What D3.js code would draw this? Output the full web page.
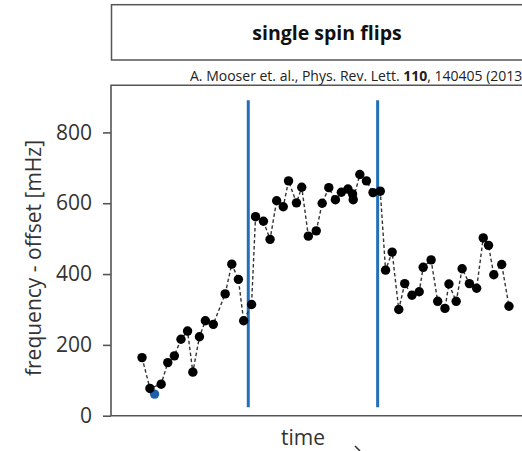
<!DOCTYPE html>
<html>
<head>
<meta charset="utf-8">
<script src="https://cdn.jsdelivr.net/npm/d3@7"></script>
<style>
  body { margin: 0; background: #fff; }
  text { font-family: "Open Sans", "Noto Sans", sans-serif; fill: #333; }
</style>
</head>
<body>
<div id="chart"></div>
<script>
// measurement time (arbitrary units) and frequency offset in mHz
var times = [4.7, 5.9, 7.6, 8.6, 9.6, 10.6, 11.6, 12.4, 13.4, 14.3, 15.5, 17.3, 18.3, 19.3, 20.1, 21.3,
  21.9, 23.1, 24.1, 25.1, 26.1, 26.9, 28.1, 28.9, 29.9, 31.1, 32.0, 33.0, 34.0, 34.9, 35.9, 36.6, 36.7,
  37.7, 38.7, 39.7, 40.8, 41.6, 42.6, 43.6, 44.5, 45.6, 46.7, 47.3, 48.5, 49.5, 50.6, 51.2, 52.3, 53.2,
  54.3, 55.4, 56.4, 57.2, 58.0, 59.2, 60.3];
var offsets = [164, 77, 89, 150, 169, 216, 239, 123, 223, 268, 258, 344, 428, 385, 268, 314,
  562, 549, 498, 607, 590, 663, 601, 645, 507, 522, 600, 644, 610, 631, 640, 626, 610,
  681, 663, 630, 634, 411, 462, 300, 373, 340, 350, 419, 440, 323, 303, 372, 323, 415,
  373, 360, 502, 481, 398, 427, 309];
// highlighted point
var markedTime = [6.6];
var markedOffset = [61];
// spin flip events
var flipTimes = [20.8, 40.4];
var yTicks = [0, 200, 400, 600, 800];

var W = 522, H = 451;
var pLeft = 111, pTop = 85.3, pBottom = 415.7, pRight = 560;

var svg = d3.select("#chart").append("svg")
  .attr("width", W).attr("height", H);

var x = d3.scaleLinear().domain([0, 65]).range([pLeft, pLeft + 65 * 6.6]);
var y = d3.scaleLinear().domain([0, 933]).range([pBottom, pTop]);

// title box
svg.append("rect")
  .attr("x", 111.5).attr("y", 4.7).attr("width", 460).attr("height", 55.3)
  .attr("fill", "none").attr("stroke", "#555").attr("stroke-width", 1.5);
svg.append("text")
  .attr("x", 327).attr("y", 40)
  .attr("text-anchor", "middle")
  .style("font-size", "19.5px").style("font-weight", "bold").style("fill", "#111")
  .text("single spin flips");

var cite = svg.append("text")
  .attr("x", 190).attr("y", 81)
  .style("font-size", "14px").style("fill", "#222");
cite.append("tspan").text("A. Mooser et. al., Phys. Rev. Lett. ");
cite.append("tspan").style("font-weight", "bold").text("110");
cite.append("tspan").text(", 140405 (2013)");

// frame
svg.append("path")
  .attr("d", "M" + pRight + "," + pTop + "H" + pLeft + "V" + pBottom + "H" + pRight)
  .attr("fill", "none").attr("stroke", "#555").attr("stroke-width", 1.6);

// y axis
var yAxis = svg.append("g")
  .attr("transform", "translate(" + pLeft + ",0)")
  .call(d3.axisLeft(y).tickValues(yTicks).tickSize(8).tickPadding(11).tickFormat(d3.format("d")));
yAxis.select(".domain").remove();
yAxis.selectAll(".tick line").attr("stroke", "#555").attr("stroke-width", 1.6);
yAxis.selectAll(".tick text")
  .style("font-size", "21px").style("font-family", "'Open Sans', sans-serif").attr("fill", "#333");

svg.append("text")
  .attr("transform", "translate(41," + 258 + ") rotate(-90)")
  .attr("text-anchor", "middle")
  .style("font-size", "21px")
  .text("frequency - offset [mHz]");

svg.append("text")
  .attr("x", 303).attr("y", 445)
  .attr("text-anchor", "middle")
  .style("font-size", "21px")
  .text("time");
svg.append("line")
  .attr("x1", 355).attr("y1", 446).attr("x2", 360).attr("y2", 451)
  .attr("stroke", "#333").attr("stroke-width", 1.6);

// spin flip lines
svg.selectAll(".flip")
  .data(flipTimes)
  .enter().append("line")
  .attr("class", "flip")
  .attr("x1", function(d) { return x(d); })
  .attr("x2", function(d) { return x(d); })
  .attr("y1", y(891)).attr("y2", y(24))
  .attr("stroke", "#2370b8").attr("stroke-width", 3);

var data = times.map(function(t, i) { return { t: t, v: offsets[i] }; });

svg.append("circle")
  .attr("cx", x(markedTime[0])).attr("cy", y(markedOffset[0]))
  .attr("r", 4.7).attr("fill", "#1b5fae");

var line = d3.line()
  .x(function(d) { return x(d.t); })
  .y(function(d) { return y(d.v); });

svg.append("path")
  .datum(data)
  .attr("d", line)
  .attr("fill", "none").attr("stroke", "#333")
  .attr("stroke-width", 1.4).attr("stroke-dasharray", "3.5,2.5");

svg.selectAll(".dot")
  .data(data)
  .enter().append("circle")
  .attr("class", "dot")
  .attr("cx", function(d) { return x(d.t); })
  .attr("cy", function(d) { return y(d.v); })
  .attr("r", 4.7)
  .attr("fill", "#000");
</script>
</body>
</html>
